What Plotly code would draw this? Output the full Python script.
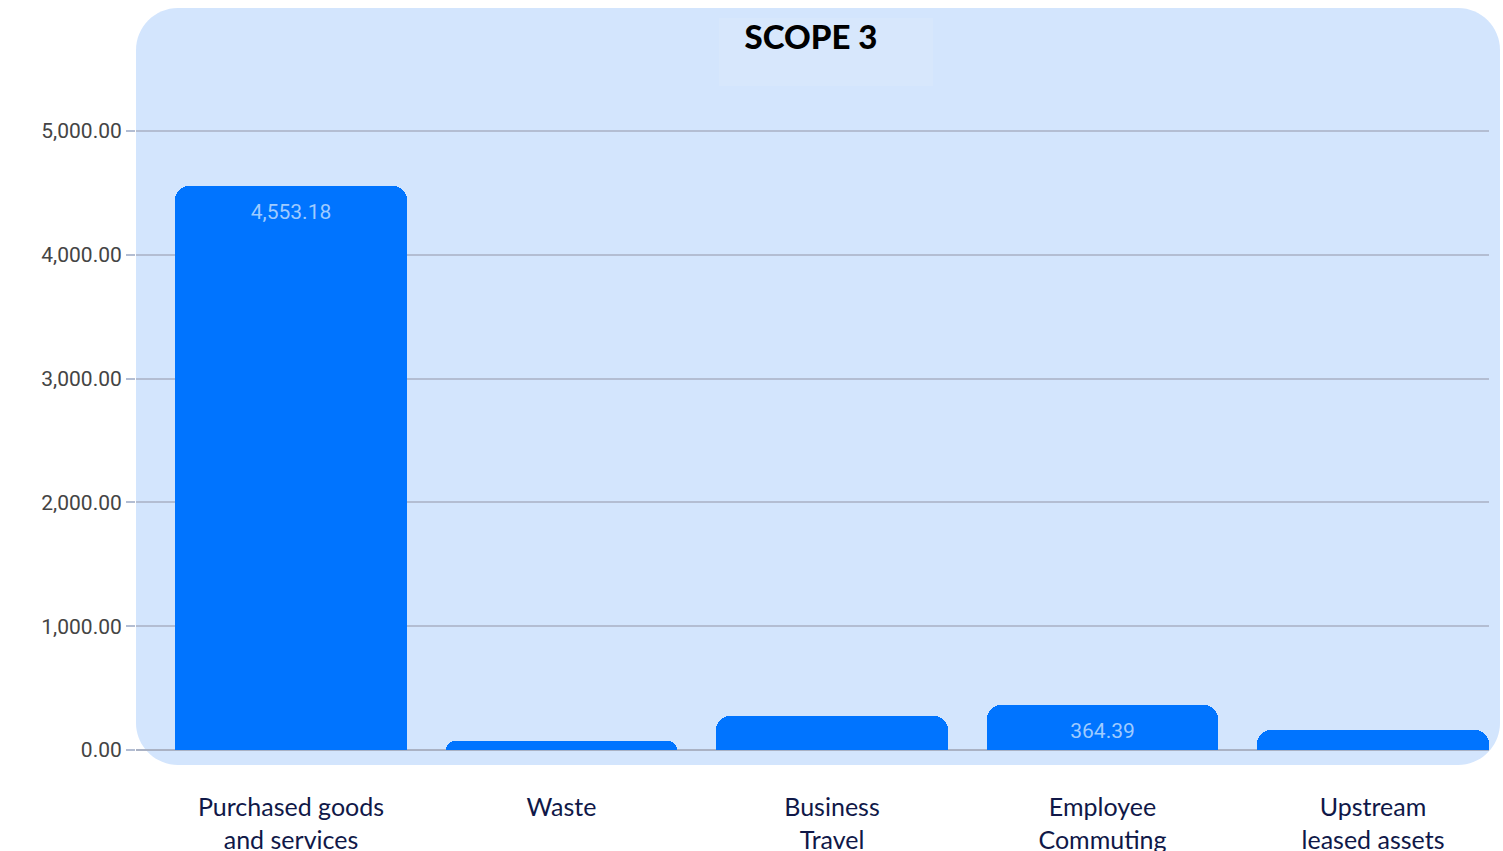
import plotly.graph_objects as go

categories = ["Purchased goods<br>and services", "Waste", "Business<br>Travel",
              "Employee<br>Commuting", "Upstream<br>leased assets"]
values = [4553.18, 73, 275, 364.39, 162]
bar_labels = ["4,553.18", "", "", "364.39", ""]
y_ticks = [0, 1000, 2000, 3000, 4000, 5000]

W, H = 1503, 851
L, R, T, B = 136, 1489, 100, 750  # plot area in pixels

def px_to_paper_x(px):
    return (px - L) / (R - L)

def px_to_paper_y(py):
    return (B - py) / (B - T)

def rounded_rect(x0, y0, x1, y1, r):
    X = px_to_paper_x
    Y = px_to_paper_y
    k = 0.45
    p = []
    p.append(f"M{X(x0 + r)},{Y(y0)}")
    p.append(f"L{X(x1 - r)},{Y(y0)}")
    p.append(f"C{X(x1 - r * k)},{Y(y0)} {X(x1)},{Y(y0 + r * k)} {X(x1)},{Y(y0 + r)}")
    p.append(f"L{X(x1)},{Y(y1 - r)}")
    p.append(f"C{X(x1)},{Y(y1 - r * k)} {X(x1 - r * k)},{Y(y1)} {X(x1 - r)},{Y(y1)}")
    p.append(f"L{X(x0 + r)},{Y(y1)}")
    p.append(f"C{X(x0 + r * k)},{Y(y1)} {X(x0)},{Y(y1 - r * k)} {X(x0)},{Y(y1 - r)}")
    p.append(f"L{X(x0)},{Y(y0 + r)}")
    p.append(f"C{X(x0)},{Y(y0 + r * k)} {X(x0 + r * k)},{Y(y0)} {X(x0 + r)},{Y(y0)}")
    p.append("Z")
    return " ".join(p)

fig = go.Figure()
fig.add_trace(go.Bar(
    x=list(range(len(categories))),
    y=values,
    text=bar_labels,
    textposition="inside",
    insidetextanchor="end",
    textangle=0,
    textfont=dict(family="Roboto", size=21, color="#9fcbff"),
    marker=dict(color="#0074FF", cornerradius=14, line=dict(width=0)),
    width=0.857,
    hoverinfo="skip",
))

fig.update_layout(
    width=W, height=H,
    margin=dict(l=L, r=W - R, t=T, b=H - B, pad=0, autoexpand=False),
    paper_bgcolor="white",
    plot_bgcolor="rgba(0,0,0,0)",
    showlegend=False,
    bargap=0,
    title=dict(text="SCOPE 3", x=811 / W, xanchor="center",
               y=1 - 37 / H, yanchor="middle",
               font=dict(family="Lato", size=33, color="#000000", weight=900)),
    shapes=[
        dict(type="path", xref="paper", yref="paper", layer="below",
             path=rounded_rect(136, 8, 1500, 765, 42),
             fillcolor="#d3e5fd", line=dict(width=0)),
        dict(type="rect", xref="paper", yref="paper", layer="below",
             x0=px_to_paper_x(719), x1=px_to_paper_x(933),
             y0=px_to_paper_y(86), y1=px_to_paper_y(18),
             fillcolor="#d7e7fc", line=dict(width=0)),
    ],
)

fig.update_xaxes(
    automargin=False,
    range=[(L - 291) / 270.5, (R - 291) / 270.5],
    tickmode="array", tickvals=list(range(len(categories))), ticktext=categories,
    tickfont=dict(family="Lato", size=25, color="#101848"),
    ticklabelstandoff=40,
    showgrid=False, zeroline=False, showline=False, ticks="",
)
fig.update_yaxes(
    automargin=False,
    range=[0, (B - T) / 123.8 * 1000],
    tickmode="array", tickvals=y_ticks,
    tickformat=",.2f",
    tickfont=dict(family="Roboto", size=21, color="#444444"),
    showgrid=True, gridcolor="#b3bdd2", gridwidth=2,
    zeroline=True, zerolinecolor="#aab2c4", zerolinewidth=2,
    ticks="outside", ticklen=9, tickcolor="#b3bdd2", tickwidth=2,
    ticklabelstandoff=0,
    showline=False,
)

fig.write_html("out.html")
